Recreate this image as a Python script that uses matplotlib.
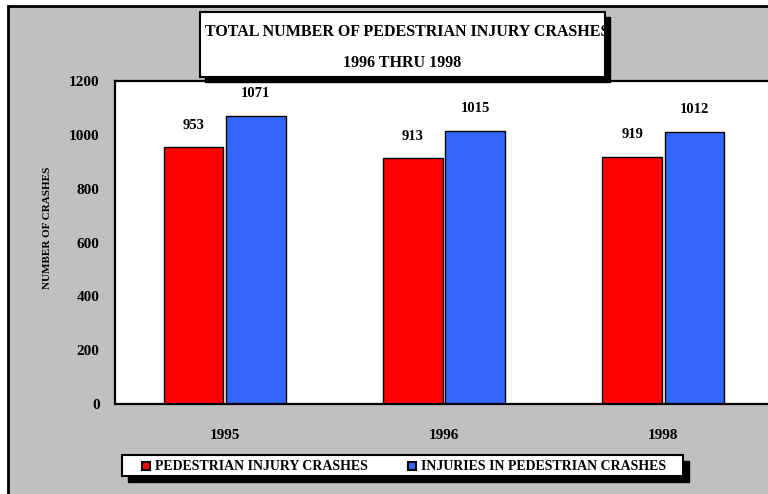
import matplotlib.pyplot as plt
from matplotlib.patches import Rectangle
from matplotlib.lines import Line2D
import numpy as np

years = ["1995", "1996", "1998"]
crashes = [953, 913, 919]
injuries = [1071, 1015, 1012]
series_names = ["PEDESTRIAN INJURY CRASHES", "INJURIES IN PEDESTRIAN CRASHES"]
title_lines = ["TOTAL NUMBER OF PEDESTRIAN INJURY CRASHES", "1996 THRU 1998"]
yticks = [0, 200, 400, 600, 800, 1000, 1200]

RED = "#ff0000"
BLUE = "#3366ff"
GREY = "#c0c0c0"
W, H = 768, 494


def fx(px):
    return px / W


def fy(py):
    # py measured from the top of the image
    return 1 - py / H


plt.rcParams["font.family"] = ["Liberation Serif", "DejaVu Serif"]
plt.rcParams["font.weight"] = "bold"

fig = plt.figure(figsize=(7.68, 4.94), dpi=100)
fig.patch.set_facecolor("white")

# grey chart panel with black frame, cut off at right/bottom
fig.add_artist(Rectangle((fx(8), -0.05), 1.2, fy(6) + 0.05, transform=fig.transFigure,
                         facecolor=GREY, edgecolor="black", linewidth=2, zorder=0))

ax = fig.add_axes([fx(115), 1 - 404 / H, (773 - 115) / W, 323 / H])
ax.set_facecolor("white")
x = np.arange(len(years))
off, bw = 0.142, 0.272
b1 = ax.bar(x - off, crashes, bw, color=RED, edgecolor="black", linewidth=1)
b2 = ax.bar(x + off, injuries, bw, color=BLUE, edgecolor="black", linewidth=1)
for bars, vals in ((b1, crashes), (b2, injuries)):
    for rect, v in zip(bars, vals):
        ax.annotate(str(v), (rect.get_x() + rect.get_width() / 2, v),
                    xytext=(0, 16), textcoords="offset points",
                    ha="center", va="center", fontsize=10.5, fontweight="bold")

ax.set_xlim(-0.5, 2.5)
ax.set_ylim(0, 1200)
ax.set_yticks(yticks)
ax.set_xticks(x)
ax.set_xticklabels(years)
ax.tick_params(axis="both", length=0, labelsize=11)
ax.tick_params(axis="y", pad=11)
ax.tick_params(axis="x", pad=18)
for s in ax.spines.values():
    s.set_linewidth(1.6)
ax.set_ylabel("NUMBER OF CRASHES", fontsize=8, fontweight="bold")
ax.yaxis.set_label_coords(-0.095, 0.545)

# title box with drop shadow
fig.add_artist(Rectangle((fx(205), fy(82)), fx(405), 65 / H, transform=fig.transFigure,
                         facecolor="black", edgecolor="black", zorder=3))
tbox = Rectangle((fx(200), fy(77)), fx(405), 65 / H, transform=fig.transFigure,
                 facecolor="white", edgecolor="black", linewidth=1.5, zorder=4)
fig.add_artist(tbox)
t1 = fig.text(fx(205), fy(32), title_lines[0], ha="left", va="center",
              fontsize=11.5, fontweight="bold", zorder=5)
t1.set_clip_path(tbox)
fig.text(fx(402), fy(63), title_lines[1], ha="center", va="center",
         fontsize=11.5, fontweight="bold", zorder=5)

# legend box with drop shadow
fig.add_artist(Rectangle((fx(128), fy(482)), fx(561), 21 / H, transform=fig.transFigure,
                         facecolor="black", edgecolor="black", zorder=3))
fig.add_artist(Rectangle((fx(122), fy(476)), fx(561), 21 / H, transform=fig.transFigure,
                         facecolor="white", edgecolor="black", linewidth=1.5, zorder=4))
for mx, col, name in ((146, RED, series_names[0]), (412, BLUE, series_names[1])):
    fig.add_artist(Line2D([fx(mx)], [fy(466)], marker="s", markersize=6,
                          markerfacecolor=col, markeredgecolor="black", mew=1.5,
                          linestyle="none", transform=fig.transFigure, zorder=5))
    fig.text(fx(mx + 9), fy(466), name, ha="left", va="center",
             fontsize=10, fontweight="bold", zorder=5)

fig.savefig("out.png", dpi=100)
